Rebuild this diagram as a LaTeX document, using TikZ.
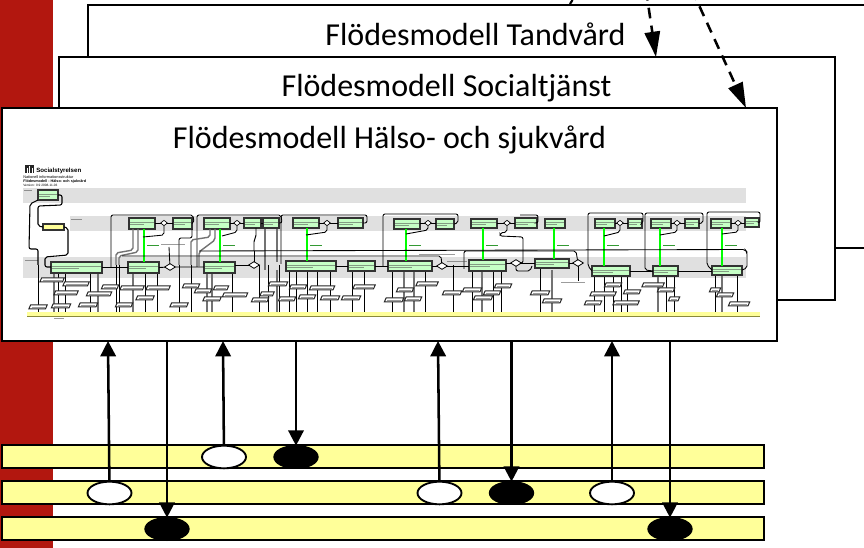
\documentclass[tikz,border=0pt]{standalone}
\usepackage{fontspec}
\setmainfont{Carlito}
\newfontfamily\sansfine{Liberation Sans}
\usetikzlibrary{arrows.meta,shapes.geometric}
\definecolor{redband}{HTML}{B2170F}
\definecolor{lane}{HTML}{FFFF99}
\definecolor{greybandc}{HTML}{E0E0E0}
\definecolor{boxg}{HTML}{C6FFC6}
\definecolor{baseedge}{HTML}{8A8A3A}
\tikzset{
  frame/.style={draw=black,fill=white,line width=1.6pt,inner sep=0pt,outer sep=0pt},
  titletext/.style={font=\fontsize{24}{28}\selectfont,text=black,inner sep=0pt},
  lanebar/.style={draw=black,fill=lane,line width=1.5pt,inner sep=0pt,outer sep=0pt},
  whiteev/.style={ellipse,draw=black,fill=white,line width=1.4pt,minimum width=33pt,minimum height=17pt,inner sep=0pt,outer sep=0pt},
  blackev/.style={ellipse,draw=black,fill=black,line width=1pt,minimum width=33pt,minimum height=17pt,inner sep=0pt,outer sep=0pt},
  flow/.style={line width=1.9pt,-{Triangle[length=11.5pt,width=11.5pt]}},
  dashflow/.style={line width=1.9pt,dash pattern=on 8pt off 5.5pt,-{Triangle[length=19pt,width=11.5pt]}},
  gbox/.style={draw=black!80,fill=boxg,line width=1pt,inner sep=0pt,outer sep=0pt},
  ybox/.style={draw=black!80,fill=lane,line width=1pt,inner sep=0pt,outer sep=0pt},
  blk/.style={draw=black,line width=.65pt,rounded corners=1.5pt},
  gry/.style={draw=black!55,line width=1.05pt,rounded corners=1.5pt},
  grn/.style={draw=green,line width=1.15pt},
  micro/.style={draw=black!70,line width=.45pt,opacity=.55},
  microg/.style={draw=green!50!black,line width=.6pt,opacity=.8},
  gate/.style={diamond,draw=black,fill=white,line width=.5pt,inner sep=0pt,outer sep=0pt,minimum width=5pt,minimum height=4pt},
  biggate/.style={diamond,draw=black,fill=white,line width=.6pt,inner sep=0pt,outer sep=0pt,minimum width=8pt,minimum height=5pt},
  pbox/.style={draw=black!85,fill=white,line width=.75pt},
}
% name, x1,y1,x2,y2 in picture pixels
\newcommand\gb[5]{\node[gbox,minimum width={(#4-#2)*.75pt},minimum height={(#5-#3)*.75pt}] (#1) at ({(#2+#4)/2},{(#3+#5)/2}) {};
  \draw[micro] ({#2+1},{(#3+#5)/2-1}) -- ({#4-1},{(#3+#5)/2-1});
  \draw[micro] ({#2+1},{(#3+#5)/2+1.2}) -- ({(#2+#4)/2+2},{(#3+#5)/2+1.2});}
\newcommand\pp[3]{\pgfmathsetmacro\pa{#1-#3/2}\pgfmathsetmacro\pb{#1+#3/2}%
  \draw[pbox] (\pa-1.2,#2+2) -- (\pa+.6,#2-2) -- (\pb+1.2,#2-2) -- (\pb-.6,#2+2) -- cycle;
  \draw[micro] (\pa+1.5,#2) -- (\pb-1.5,#2);}
\begin{document}
\begin{tikzpicture}[x=.75pt,y=-.75pt]
\useasboundingbox (0,0) rectangle (864,548);
\clip (0,0) rectangle (864,548);
\fill[redband] (0,0) rectangle (53,548);
% stacked frames
\node[frame,minimum width={780*.75pt},minimum height={243*.75pt}] (tand) at (478,126.5) {};
\node[titletext] (tandt) at (475.5,34.5) {Flödesmodell Tandvård};
\node[frame,minimum width={776*.75pt},minimum height={243*.75pt}] (soc) at (447,178.5) {};
\node[titletext] (soct) at (446.5,88.5) {Flödesmodell Socialtjänst};
\node[frame,minimum width={775*.75pt},minimum height={233*.75pt}] (hs) at (389.5,224.5) {};
\node[titletext] (hst) at (389.5,140) {Flödesmodell Hälso- och sjukvård};
% dashed arrows from above
\coordinate (d1) at (646,-10);
\coordinate (d2) at (692,-10);
\coordinate (d3e) at (570,4);
\draw[dashflow] (d1) -- (soc.north -| 656,0);
\draw[dashflow] (d2) -- (hs.north -| 746,0);
\draw[line width=1.6pt] (572.5,0) -- (d3e);
% thumbnail: bands
\fill[greybandc] (23,188) rectangle (746,203);
\fill[greybandc] (70,216) rectangle (746,231);
\fill[greybandc] (23,257) rectangle (746,278);
% thumbnail: header
\fill[black!85] (25,165) rectangle (34,173);
\draw[white,line width=.5pt] (27,173) -- (27,168) (29.5,173) -- (29.5,166) (32,173) -- (32,168);
\node[anchor=west,inner sep=0pt,font=\sansfine\bfseries\fontsize{4.6}{5}\selectfont] (hd1) at (36,171) {Socialstyrelsen};
\node[anchor=west,inner sep=0pt,font=\sansfine\fontsize{2.9}{3}\selectfont] (hd2) at (23,177) {Nationell informationsstruktur};
\node[anchor=west,inner sep=0pt,font=\sansfine\bfseries\fontsize{2.8}{3}\selectfont] (hd3) at (23,181) {Flödesmodell - Hälso- och sjukvård};
\node[anchor=west,inner sep=0pt,font=\sansfine\fontsize{2.4}{3}\selectfont] (hd4) at (23,185) {Version: 0.9 2008-11-03};
\draw[micro] (24,190) -- (32,190) (71,219) -- (82,219) (25,260) -- (38,260);
% stems down to base
\foreach \x in {38,58,65,90,116,119,132,145,157,179,191,232,259,268,279.5,289,296,307,317,330,352,364,392,425,453,472,493,501,540,594,604,613,621,627,666,674,715,737}
  \draw[blk] (\x,265) -- (\x,312);
\foreach \x in {54,98,133,207,212,277,404,414,482,552,658,722}
  \draw[gry] (\x,270) -- (\x,312);
% boxes
\gb{A}{38}{190}{58}{200}
\node[ybox,minimum width={21*.75pt},minimum height={6*.75pt}] (Yb) at (53.5,227) {};
\gb{B}{129}{218}{155}{229}
\gb{C}{173}{218}{192}{229}
\gb{D}{204}{218}{230}{229}
\gb{E}{244}{218}{261}{228}
\gb{F}{263}{218}{279}{228}
\gb{J}{293}{218}{319}{228}
\gb{K}{338}{218}{363}{228}
\gb{L}{394}{219}{420}{229}
\gb{M}{436}{219}{454}{229}
\gb{N}{471}{219}{497}{228}
\gb{O}{515}{218}{537}{228}
\gb{T}{545}{219}{565}{228}
\gb{U}{595}{219}{615}{228}
\gb{V}{628}{219}{642}{228}
\gb{W}{651}{219}{671}{228}
\gb{X}{685}{219}{699}{228}
\gb{Y}{711}{219}{731}{228}
\gb{Z}{745}{218}{759}{227}
\gb{G}{51}{262}{102}{273}
\gb{H}{128}{262}{159}{273}
\gb{I}{204}{262}{235}{273}
\gb{P}{286}{261}{336}{271}
\gb{Q}{348}{261}{375}{271}
\gb{R}{388}{261}{432}{271}
\gb{S}{469}{260}{506}{271}
\gb{a}{535}{259}{569}{268}
\gb{b}{592}{266}{630}{276}
\gb{c}{653}{266}{678}{276}
\gb{d}{712}{266}{742}{275}
% gates
\node[gate] (g1) at (164,223) {};
\node[gate] (g2) at (237,223) {};
\node[gate] (g3) at (327,223) {};
\node[gate] (g4) at (428,223) {};
\node[gate] (g5) at (507,223) {};
\node[gate] (g6) at (620,223) {};
\node[gate] (g7) at (677,223) {};
\node[gate] (g8) at (738,223) {};
\node[biggate] (h1) at (170,267) {};
\node[biggate] (h2) at (254,265) {};
\node[biggate] (h3) at (442,266) {};
\node[biggate] (h4) at (516,263) {};
\node[biggate] (h5) at (578,263) {};
% green links
\foreach \s/\t/\x in {B/H/144,D/I/220,J/P/307,L/R/406,N/S/483,T/a/554,U/b/604,W/c/660,Y/d/722}
  {\draw[grn] (\s.south -| \x,0) -- (\t.north -| \x,0);
   \draw[microg] (\x+3,245) -- (\x+15,245);}
% chain connectors
\foreach \s/\g/\t in {B/g1/C,D/g2/E,J/g3/K,L/g4/M,N/g5/O,U/g6/V,W/g7/X,Y/g8/Z}
  \draw[blk] (\s.east |- \g) -- (\g) -- (\t.west |- \g);
\draw[blk] (E.east) -- (F.west);
\draw[blk] (G.east) -- (H.west);
\draw[blk] (H.east) -- (h1) -- (I.west |- h1);
\draw[blk] (I.east |- h2) -- (h2);
\draw[blk] (P.east) -- (Q.west);
\draw[blk] (Q.east) -- (R.west);
\draw[blk] (R.east |- h3) -- (h3) -- (S.west |- h3);
\draw[blk] (S.east |- h4) -- (h4) -- (a.west |- h4);
\draw[blk] (a.east |- h5) -- (h5);
\draw[blk] (b.east |- 0,271) -- (c.west |- 0,271);
\draw[blk] (c.east |- 0,271) -- (d.west |- 0,271);
% routed connectors
\draw[blk,line width=.8pt] (A.east) -- (62,195) -- (62,205) -- (38,206) -- (38,226) -- (Yb.west);
\draw[blk,line width=.8pt] (A.south west) -- (30,204) -- (29,249) -- (38,249) -- (38,265);
\draw[blk,line width=.8pt] (Yb.east) -- (68,228) -- (68,255) -- (45,257) -- (45,267) -- (G.west |- 0,267);
\draw[blk] (C.east) -- (194,223) -- (193,215) -- (111,215) -- (111,267);
\draw[gry] (B.south west -| 133,0) -- (133,250) -- (116,253) -- (116,265);
\draw[gry] (B.south west -| 138,0) -- (138,252) -- (119,256) -- (119,265);
\draw[blk] (g1) -- (164,235) -- (143,237);
\draw[blk] (h1) -- (169,247);
\draw[blk] (C.south west -| 192,0) -- (192,238) -- (179,238) -- (179,265);
\draw[blk] (F.east) -- (282,223) -- (281,215) -- (197,215) -- (197,267);
\draw[gry] (D.south west -| 210,0) -- (210,237) -- (191,240) -- (191,265);
\draw[gry] (D.south west -| 215,0) -- (215,240) -- (199,252) -- (199,267);
\draw[blk] (g2) -- (237,232) -- (222,236);
\draw[blk] (h2) -- (254,251);
\draw[blk] (E.south east -| 256,0) -- (256,237) -- (254,240) -- (254,251);
\draw[gry] (265,229) -- (265,270);
\draw[gry] (277,229) -- (277,262);
\draw[blk] (K.east) -- (367,223) -- (367,215) -- (281,215) -- (281,264);
\draw[blk] (g3) -- (327,232) -- (306,235);
\draw[blk] (M.east) -- (458,223) -- (458,214) -- (383,214) -- (383,266);
\draw[blk] (g4) -- (428,230) -- (406,234);
\draw[blk] (O.east) -- (538,223) -- (538,215) -- (520,215);
\draw[blk] (g5) -- (507,232) -- (500,233) -- (500,236) -- (523,237) -- (523,263) -- (h4);
\draw[blk] (h4) -- (516,271) -- (530,271) -- (532,266);
\draw[blk] (V.east) -- (643,223) -- (643,213) -- (588,213) -- (588,266) -- (592,271);
\draw[blk] (g6) -- (620,232) -- (604,236);
\draw[blk] (X.east) -- (703,223) -- (703,213) -- (645,213) -- (645,270) -- (653,271);
\draw[blk] (g7) -- (677,232) -- (660,235);
\draw[blk] (Z.east) -- (760,223) -- (760,212) -- (707,212) -- (707,265) -- (712,270);
\draw[blk] (g8) -- (738,232) -- (722,234);
% long lines
\draw[blk] (199,251) -- (745,249.5) -- (747,252) -- (747,268) -- (d.east |- 0,270);
\draw[blk] (122,256) -- (441,256) -- (h3);
\draw[blk] (464,269) -- (464,251) -- (576,251) -- (h5);
\draw[blk] (h5) -- (578,281);
% small labels
\draw[micro] (161,244) -- (185,244) (419,254) -- (455,254) (447,261) -- (467,261) (561,282) -- (585,282);
% base
\fill[lane] (27,312) rectangle (760,316);
\draw[baseedge,line width=.9pt] (27,316.5) -- (760,316.5);
\draw[micro] (54,318.5) -- (64,318.5);
% parallelograms
\pp{52}{280}{22}\pp{76}{284}{24}\pp{66}{293}{22}\pp{61}{306}{17}\pp{38}{307}{16}\pp{88}{305}{17}
\pp{99}{294}{23}\pp{110}{287}{15}\pp{132}{288}{22}\pp{158}{288}{22}\pp{145}{298}{16}\pp{124}{305}{15}
\pp{179}{305}{16}\pp{191}{286}{15}\pp{203}{291}{15}\pp{221}{288}{13}\pp{212}{299}{16}\pp{235}{295}{23}
\pp{260}{300}{15}\pp{267}{294}{12}\pp{278}{284}{17}
\pp{298}{287}{15}\pp{322}{288}{23}\pp{287}{299}{15}\pp{307}{297}{15}\pp{330}{298}{17}\pp{351}{298}{17}\pp{364}{287}{20}
\pp{405}{290}{15}\pp{427}{284}{20}\pp{394}{300}{17}\pp{413}{299}{15}\pp{452}{293}{17}\pp{472}{290}{17}\pp{483}{298}{17}\pp{492}{293}{15}\pp{503}{286}{15}
\pp{540}{293}{17}\pp{552}{301}{17}\pp{613}{285}{15}\pp{603}{294}{24}\pp{593}{303}{15}\pp{632}{292}{15}\pp{626}{303}{24}
\pp{653}{285}{20}\pp{666}{290}{15}\pp{674}{299}{9}\pp{715}{290}{9}\pp{725}{295}{15}\pp{739}{304}{19}
% swimlanes
\node[lanebar,minimum width={762*.75pt},minimum height={23*.75pt}] (l1) at (383,456.5) {};
\node[lanebar,minimum width={762*.75pt},minimum height={23*.75pt}] (l2) at (383,492.5) {};
\node[lanebar,minimum width={762*.75pt},minimum height={23*.75pt}] (l3) at (383,528.5) {};
\node[whiteev] (w1) at (224,457) {};
\node[blackev] (k1) at (296,457) {};
\node[whiteev] (w2) at (109.5,493) {};
\node[whiteev] (w3) at (439.5,493) {};
\node[blackev] (k2) at (511.5,493) {};
\node[whiteev] (w4) at (612,493) {};
\node[blackev] (k3) at (167,529) {};
\node[blackev] (k4) at (670,529) {};
\draw[flow] (w2) -- (hs.south -| 108,0);
\draw[flow] (w1) -- (hs.south -| 223,0);
\draw[flow] (w3) -- (hs.south -| 438,0);
\draw[flow] (w4) -- (hs.south -| 612,0);
\draw[flow] (hs.south -| 167,0) -- (k3);
\draw[flow] (hs.south -| 296,0) -- (k1);
\draw[flow] (hs.south -| 511.5,0) -- (k2);
\draw[flow] (hs.south -| 670,0) -- (k4);
\end{tikzpicture}
\end{document}
